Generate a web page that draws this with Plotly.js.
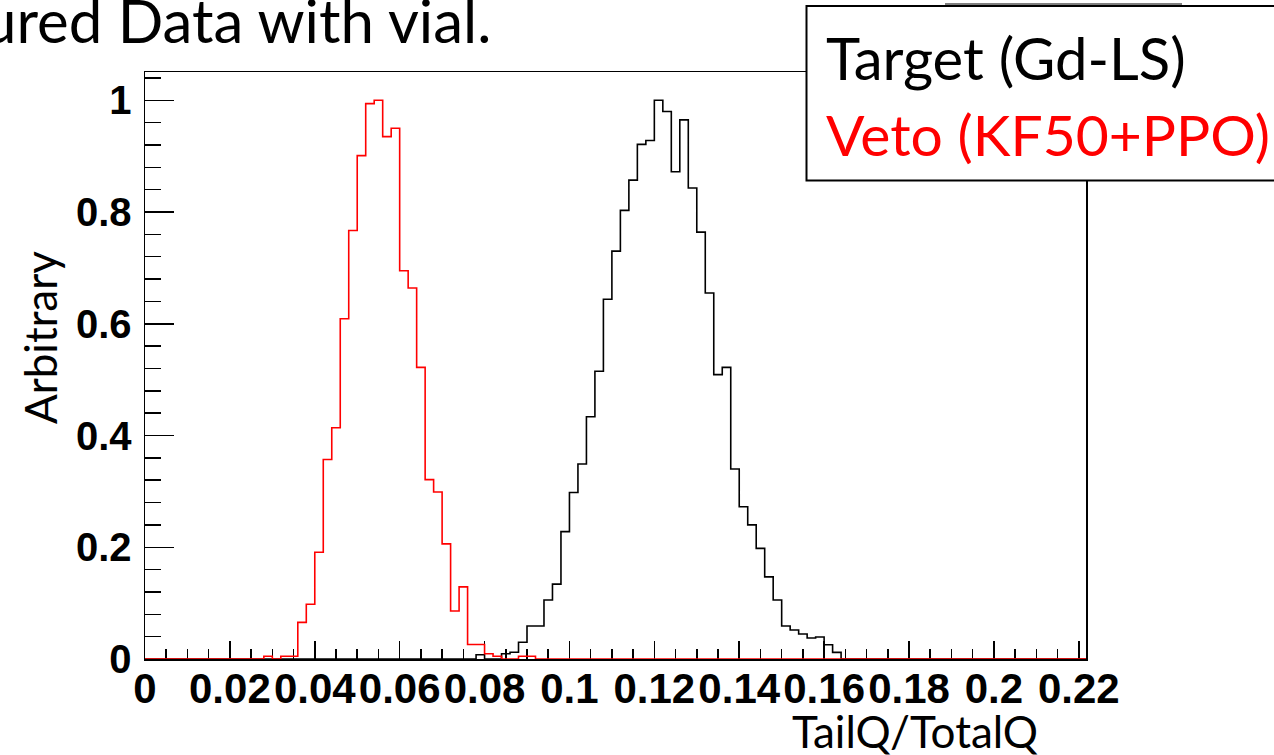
<!DOCTYPE html>
<html>
<head>
<meta charset="utf-8">
<script src="https://cdn.plot.ly/plotly-3.0.1.min.js"></script>
<style>
  html, body { margin: 0; padding: 0; background: #ffffff; }
  #chart { width: 1274px; height: 755px; }
</style>
</head>
<body>
<div id="chart"></div>
<script>
// ---- Data ----
// Veto (KF50+PPO): histogram bin edges and bin contents
const vetoEdges = [0.028,0.030,0.032,0.034,0.036,0.038,0.040,0.042,0.044,0.046,0.048,0.050,0.052,0.054,0.056,0.058,0.060,0.062,0.064,0.066,0.068,0.070,0.072,0.074,0.076,0.078,0.080,0.082,0.084,0.086,0.088,0.090,0.092];
const vetoValues = [0.005,0,0.005,0.005,0.0655,0.098,0.191,0.357,0.414,0.609,0.767,0.901,0.994,1.0,0.935,0.950,0.695,0.664,0.522,0.321,0.299,0.206,0.086,0.129,0.026,0.026,0.0095,0.005,0,0,0.005,0.005];

// Target (Gd-LS): histogram bin edges and bin contents
const targetEdges = [0.078,0.080,0.082,0.084,0.086,0.088,0.090,0.092,0.094,0.096,0.098,0.100,0.102,0.104,0.106,0.108,0.110,0.112,0.114,0.116,0.118,0.120,0.122,0.124,0.126,0.128,0.130,0.132,0.134,0.136,0.138,0.140,0.142,0.144,0.146,0.148,0.150,0.152,0.154,0.156,0.158,0.160,0.162,0.164];
const targetValues = [0.0077,0,0,0.0095,0.012,0.030,0.059,0.059,0.1055,0.134,0.228,0.298,0.349,0.4335,0.515,0.644,0.730,0.803,0.857,0.921,0.928,1.0,0.980,0.872,0.965,0.843,0.764,0.655,0.509,0.522,0.340,0.2725,0.240,0.198,0.147,0.1055,0.059,0.052,0.0447,0.0376,0.0394,0.0256,0.0118];

const seriesNames = ["Target (Gd-LS)", "Veto (KF50+PPO)"];
const xTickVals = [0,0.02,0.04,0.06,0.08,0.1,0.12,0.14,0.16,0.18,0.2,0.22];
const xTickText = ["0","0.02","0.04","0.06","0.08","0.1","0.12","0.14","0.16","0.18","0.2","0.22"];
const yTickVals = [0,0.2,0.4,0.6,0.8,1];
const yTickText = ["0","0.2","0.4","0.6","0.8","1"];
const xAxisTitle = "TailQ/TotalQ";
const yAxisTitle = "Arbitrary";
const pageTitle = "ured Data with vial.";

// ---- Layout geometry ----
const X_MAX = 0.2217, Y_MAX = 1.0506;
const PL = 145, PT = 72, PW = 941, PH = 587;
const px2x = p => (p - PL) / PW;
const px2y = p => (PT + PH - p) / PH;

function stepTrace(edges, values, color, name) {
  const x = [0].concat(edges).concat([X_MAX]);
  const y = [0].concat(values).concat([0, 0]);
  return {
    type: "scatter", mode: "lines", name: name,
    x: x, y: y,
    line: { shape: "hv", color: color, width: 1.6 },
    hoverinfo: "skip"
  };
}

const traces = [
  stepTrace(targetEdges, targetValues, "#000000", seriesNames[0]),
  stepTrace(vetoEdges, vetoValues, "#ff0000", seriesNames[1])
];

const slideFont = "Lato, 'Open Sans', sans-serif";
const tickFontX = { family: "'Liberation Sans', Arial, sans-serif", size: 42, color: "#000000", weight: "bold" };
const tickFontY = { family: "'Liberation Sans', Arial, sans-serif", size: 40, color: "#000000", weight: "bold" };

const layout = {
  width: 1274, height: 755,
  paper_bgcolor: "#ffffff", plot_bgcolor: "#ffffff",
  showlegend: false,
  margin: { l: PL, r: 1274 - PL - PW, t: PT, b: 755 - PT - PH, pad: 0 },
  xaxis: {
    range: [0, X_MAX], showgrid: false, zeroline: false,
    showline: true, linecolor: "#000000", linewidth: 1.5, mirror: true,
    ticks: "inside", ticklen: 18, tickwidth: 1.5, tickcolor: "#000000",
    tickvals: xTickVals, ticktext: xTickText,
    tickfont: tickFontX, ticklabelstandoff: -8,
    minor: { dtick: 0.005, ticks: "inside", ticklen: 10, tickwidth: 1.5, tickcolor: "#000000", showgrid: false },
    layer: "below traces"
  },
  yaxis: {
    range: [0, Y_MAX], showgrid: false, zeroline: false,
    showline: true, linecolor: "#000000", linewidth: 1.5, mirror: true,
    ticks: "inside", ticklen: 29, tickwidth: 1.5, tickcolor: "#000000",
    tickvals: yTickVals, ticktext: yTickText,
    tickfont: tickFontY, ticklabelstandoff: 4,
    minor: { dtick: 0.04, ticks: "inside", ticklen: 16, tickwidth: 1.5, tickcolor: "#000000", showgrid: false },
    layer: "below traces"
  },
  shapes: [
    { type: "rect", xref: "paper", yref: "paper", layer: "above",
      x0: px2x(946), x1: px2x(1181), y0: px2y(100), y1: px2y(4),
      line: { color: "#7f7f7f", width: 2 }, fillcolor: "#ffffff" },
    { type: "rect", xref: "paper", yref: "paper", layer: "above",
      x0: px2x(806.5), x1: px2x(1300), y0: px2y(180.5), y1: px2y(6),
      line: { color: "#000000", width: 2 }, fillcolor: "#ffffff" }
  ],
  annotations: [
    { text: pageTitle, xref: "paper", yref: "paper", x: px2x(493), y: px2y(20),
      xanchor: "right", yanchor: "middle", showarrow: false,
      font: { family: slideFont, size: 60, color: "#000000" } },
    { text: seriesNames[0], xref: "paper", yref: "paper", x: px2x(824), y: px2y(57),
      xanchor: "left", yanchor: "middle", showarrow: false,
      font: { family: slideFont, size: 58, color: "#000000" } },
    { text: seriesNames[1], xref: "paper", yref: "paper", x: px2x(824), y: px2y(134),
      xanchor: "left", yanchor: "middle", showarrow: false,
      font: { family: slideFont, size: 57, color: "#ff0000" } },
    { text: yAxisTitle, xref: "paper", yref: "paper", x: px2x(40), y: px2y(338),
      xanchor: "center", yanchor: "middle", textangle: -90, showarrow: false,
      font: { family: slideFont, size: 44, color: "#000000" } },
    { text: xAxisTitle, xref: "paper", yref: "paper", x: px2x(915), y: px2y(731),
      xanchor: "center", yanchor: "middle", showarrow: false,
      font: { family: slideFont, size: 44, color: "#000000" } }
  ]
};

Plotly.newPlot("chart", traces, layout, { displayModeBar: false, staticPlot: true });
</script>
</body>
</html>
